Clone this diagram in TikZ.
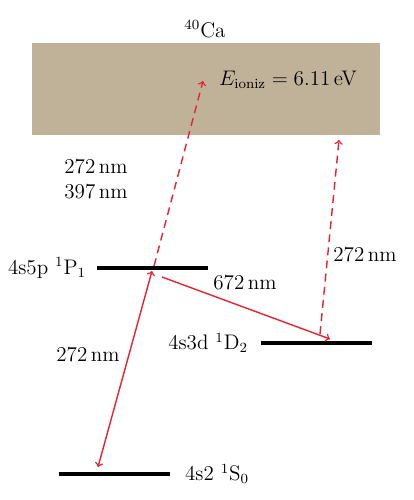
\documentclass[tikz,border=0pt]{standalone}
\usepackage{amsmath}
\usepackage{xcolor}
\usepackage{tikz}
\definecolor{ionband}{RGB}{192,178,153}
\definecolor{laserred}{RGB}{228,36,48}
\tikzset{
  level/.style={line width=2pt},
  laser/.style={laserred,line width=0.8pt,->},
  laserdash/.style={laser,dash pattern=on 4.5pt off 3pt},
  lbl/.style={font=\fontsize{12}{14}\selectfont,inner sep=1pt}
}
\begin{document}
\begin{tikzpicture}
\useasboundingbox (0,0) rectangle (8.26,10);
\fill[ionband] (0.64,7.3) rectangle (7.6,9.14);
\node (ca) at (4.1,9.42) [lbl] {$^{40}$Ca};
\node (eion) at (5.76,8.4) [lbl] {$E_{\text{ioniz}} = 6.11\,\text{eV}$};
\coordinate (ion1) at (4.06,8.38);
\coordinate (ion2) at (6.78,7.2);
% levels
\draw[level] (1.94,4.64) -- (4.16,4.64);
\draw[level] (5.22,3.14) -- (7.44,3.14);
\draw[level] (1.18,0.52) -- (3.4,0.52);
\node (p1) at (1.76,4.64) [lbl,anchor=east] {4s5p $^1$P$_1$};
\node (d2) at (5.0,3.14) [lbl,anchor=east] {4s3d $^1$D$_2$};
\node (s0) at (3.66,0.52) [lbl,anchor=west] {4s2 $^1$S$_0$};
\coordinate (s0a) at (1.96,0.66);
\coordinate (p1a) at (3.04,4.58);
\coordinate (p1b) at (3.24,4.46);
\coordinate (p1c) at (3.08,4.68);
\coordinate (d2a) at (6.6,3.22);
\coordinate (d2b) at (6.4,3.32);
% transitions
\draw[laser,<->] (s0a) -- (p1a);
\draw[laser] (p1b) -- (d2a);
\draw[laserdash] (p1c) -- (ion1);
\draw[laserdash] (d2b) -- (ion2);
\node (w1) at (1.76,2.9) [lbl] {272\,nm};
\node (w2) at (4.9,4.34) [lbl] {672\,nm};
\node (w3) at (1.92,6.42) [lbl,align=center] {272\,nm\\397\,nm};
\node (w4) at (7.3,4.9) [lbl] {272\,nm};
\end{tikzpicture}
\end{document}
